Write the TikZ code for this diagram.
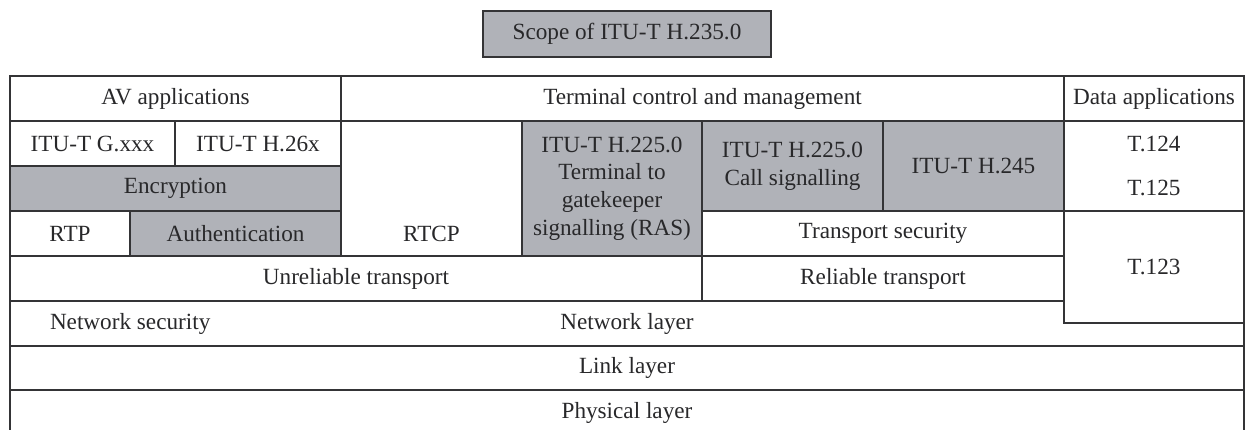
\documentclass[tikz,border=0pt]{standalone}
\usepackage{fontspec}
\setmainfont{Liberation Serif}
\usepackage{xcolor}
\usepackage{tikz}
\usetikzlibrary{positioning}

\definecolor{scopegray}{RGB}{176,178,184}
\definecolor{rulegray}{RGB}{52,52,54}
\definecolor{inkgray}{RGB}{40,40,42}

\begin{document}
\begin{tikzpicture}[
    cell/.style={
        draw=rulegray,
        line width=1pt,
        fill=white,
        inner sep=0pt,
        outer sep=0pt,
        align=center,
        text=inkgray,
        font=\fontsize{13.2}{15.8}\selectfont
    },
    scoped/.style={
        cell,
        fill=scopegray
    },
    txt/.style={
        inner sep=0pt,
        outer sep=0pt,
        text=inkgray,
        font=\fontsize{13.2}{15.8}\selectfont
    }
]

\clip (0,0) rectangle (249mm,-86mm);

%-------------------------------------------------
% Scope marker
%-------------------------------------------------

\node[scoped,minimum width=57.6mm,minimum height=9.2mm] (scope)
    at (125.4mm,-6.8mm) {Scope of ITU-T H.235.0};

%-------------------------------------------------
% Application row
%-------------------------------------------------

\node[cell,anchor=north west,minimum width=66.2mm,minimum height=9mm] (av)
    at (2mm,-15.2mm) {AV applications};
\node[cell,below right=0pt of av.north east,minimum width=144.6mm,minimum height=9mm] (tcm)
    {Terminal control and management};
\node[cell,below right=0pt of tcm.north east,minimum width=36mm,minimum height=9mm] (data)
    {Data applications};

%-------------------------------------------------
% AV stack
%-------------------------------------------------

\node[cell,below right=0pt of av.south west,minimum width=33mm,minimum height=9mm] (gxxx)
    {ITU-T G.xxx};
\node[cell,below right=0pt of gxxx.north east,minimum width=33.2mm,minimum height=9mm] (h26x)
    {ITU-T H.26x};
\node[scoped,below right=0pt of gxxx.south west,minimum width=66.2mm,minimum height=9mm] (enc)
    {Encryption};
\node[cell,below right=0pt of enc.south west,minimum width=24mm,minimum height=9mm] (rtp)
    {RTP};
\node[scoped,below right=0pt of rtp.north east,minimum width=42.2mm,minimum height=9mm] (auth)
    {Authentication};

%-------------------------------------------------
% Terminal control
%-------------------------------------------------

\node[cell,below right=0pt of av.south east,minimum width=36.2mm,minimum height=27mm] (rtcp) {};
\node[txt,above=0pt of rtcp.south,minimum height=9mm] (rtcplbl) {RTCP};

\node[scoped,below right=0pt of rtcp.north east,minimum width=36mm,minimum height=27mm] (ras)
    {ITU-T H.225.0\\Terminal to\\gatekeeper\\signalling (RAS)};
\node[scoped,below right=0pt of ras.north east,minimum width=36.2mm,minimum height=18mm] (call)
    {ITU-T H.225.0\\Call signalling};
\node[scoped,below right=0pt of call.north east,minimum width=36.2mm,minimum height=18mm] (h245)
    {ITU-T H.245};
\node[cell,below right=0pt of call.south west,minimum width=72.4mm,minimum height=9mm] (tsec)
    {Transport security};

%-------------------------------------------------
% Data stack
%-------------------------------------------------

\node[cell,below right=0pt of h245.north east,minimum width=36mm,minimum height=18mm] (t124)
    {T.124\\[3.2mm]T.125};

%-------------------------------------------------
% Transport and lower layers
%-------------------------------------------------

\node[cell,below right=0pt of rtp.south west,minimum width=138.4mm,minimum height=9mm] (unrel)
    {Unreliable transport};
\node[cell,below right=0pt of unrel.north east,minimum width=72.4mm,minimum height=9mm] (rel)
    {Reliable transport};

\node[cell,below right=0pt of unrel.south west,minimum width=246.8mm,minimum height=9mm] (net)
    {Network layer};
\node[txt,right=8mm of net.west] (netsec) {Network security};

\node[cell,below right=0pt of net.south west,minimum width=246.8mm,minimum height=8.8mm] (link)
    {Link layer};
\node[cell,below right=0pt of link.south west,minimum width=246.8mm,minimum height=9mm] (phys)
    {Physical layer};

\node[cell,below right=0pt of tsec.north east,minimum width=36mm,minimum height=22.4mm] (t123)
    {T.123};

\end{tikzpicture}
\end{document}
